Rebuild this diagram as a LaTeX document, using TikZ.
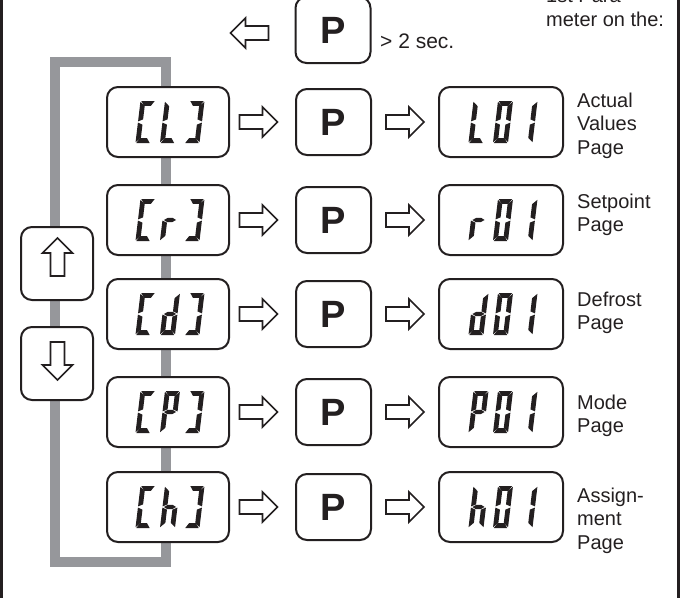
\documentclass[tikz,border=0pt]{standalone}
\usepackage{fontspec}
\setmainfont{Liberation Sans}
\usetikzlibrary{calc}
\definecolor{loopgray}{RGB}{150,151,155}
\definecolor{ink}{RGB}{35,31,32}
% seven-segment pieces (local cell 15 x 42, origin top-left, y down)
\newcommand\segpa{\fill[ink] (0.8,0) -- (14.2,0) -- (11.0,4.8) -- (4.0,4.8) -- cycle;}
\newcommand\segpd{\fill[ink] (0.8,42) -- (14.2,42) -- (11.0,37.2) -- (4.0,37.2) -- cycle;}
\newcommand\segpg{\fill[ink] (1.4,21) -- (5.2,18.8) -- (9.8,18.8) -- (13.6,21) -- (9.8,23.2) -- (5.2,23.2) -- cycle;}
\newcommand\segpf{\fill[ink] (0,0.8) -- (4.8,5.2) -- (4.8,18.4) -- (0,20.4) -- cycle;}
\newcommand\segpe{\fill[ink] (0,21.6) -- (4.8,23.6) -- (4.8,36.8) -- (0,41.2) -- cycle;}
\newcommand\segpb{\fill[ink] (15,0.8) -- (10.2,5.2) -- (10.2,18.4) -- (15,20.4) -- cycle;}
\newcommand\segpc{\fill[ink] (15,21.6) -- (10.2,23.6) -- (10.2,36.8) -- (15,41.2) -- cycle;}
\newcommand\segchar[2]{\begin{scope}[shift={(#1)}, xslant=0.12]\foreach \s in {#2}{\csname segp\s\endcsname}\end{scope}}
\newcommand\dispchars[4]{%
  \segchar{$(#1.center)+(-27.5,-21)$}{#2}%
  \segchar{$(#1.center)+(-3,-21)$}{#3}%
  \segchar{$(#1.center)+(21.5,-21)$}{#4}}
\begin{document}
\begin{tikzpicture}[x=1pt,y=-1pt,
  keybox/.style={draw=ink, line width=2pt, rounded corners=11pt, fill=white, inner sep=0pt},
  ldisp/.style={keybox, minimum width=122pt, minimum height=70pt},
  rdisp/.style={keybox, minimum width=124pt, minimum height=70pt},
  pkey/.style={keybox, minimum width=75pt, minimum height=66pt, text=ink,
     font=\fontsize{38}{38}\selectfont\bfseries},
  navkey/.style={keybox, minimum width=72pt, minimum height=73pt},
  lbl/.style={anchor=base west, align=left, inner sep=0pt, text=ink,
     font=\fontsize{20}{23.5}\selectfont},
  rarrow/.pic={\draw[ink, line width=1.7pt, fill=white, line join=miter]
     (-19,-7) -- (4,-7) -- (4,-15) -- (19,0) -- (4,15) -- (4,7) -- (-19,7) -- cycle;}
]
\useasboundingbox (0,0) rectangle (681,598);
\clip (0,0) rectangle (681,598);
% frame sides
\draw[ink, line width=2.5pt] (1.25,0) -- (1.25,598);
\draw[ink, line width=2.5pt] (678.5,0) -- (678.5,598);
% gray loop
\coordinate (lt) at (55,62);
\coordinate (rt) at (166,62);
\coordinate (lb) at (55,562);
\coordinate (rb) at (166,562);
\draw[loopgray, line width=10.5pt, line join=miter] (rt) -- (lt) -- (lb) -- (rb) -- cycle;
% top row
\node[pkey] (ptop) at (333,30) {P};
\pic[rotate=180] at (249.5,33) {rarrow};
\node[lbl, font=\fontsize{21}{24}\selectfont] (sec) at (380,48) {> 2 sec.};
\node[lbl] (note) at (546,26) {1st Para-\\meter on the:};
% navigation keys
\node[navkey] (up) at (57,263.5) {};
\node[navkey] (down) at (57,363.5) {};
\pic[rotate=90] at (57.5,257) {rarrow};
\pic[rotate=-90] at (57.5,361) {rarrow};
% rows
\foreach \i/\y in {1/122,2/220,3/314,4/412,5/507}{
  \node[ldisp] (l\i) at (168,\y) {};
  \node[pkey]  (p\i) at (333.5,\y) {P};
  \node[rdisp] (r\i) at (501,\y) {};
  \pic at ($(l\i.east)!0.5!(p\i.west)+(-4,0)$) {rarrow};
  \pic at ($(p\i.east)!0.5!(r\i.west)$) {rarrow};
}
% display characters
\dispchars{l1}{a,d,e,f}{d,e,f}{a,b,c,d}
\dispchars{l2}{a,d,e,f}{e,g}{a,b,c,d}
\dispchars{l3}{a,d,e,f}{b,c,d,e,g}{a,b,c,d}
\dispchars{l4}{a,d,e,f}{a,b,e,f,g}{a,b,c,d}
\dispchars{l5}{a,d,e,f}{c,e,f,g}{a,b,c,d}
\dispchars{r1}{d,e,f}{a,b,c,d,e,f}{b,c}
\dispchars{r2}{e,g}{a,b,c,d,e,f}{b,c}
\dispchars{r3}{b,c,d,e,g}{a,b,c,d,e,f}{b,c}
\dispchars{r4}{a,b,e,f,g}{a,b,c,d,e,f}{b,c}
\dispchars{r5}{c,e,f,g}{a,b,c,d,e,f}{b,c}
% labels (anchor = baseline of last line)
\node[lbl] (t1) at (577,154) {Actual\\Values\\Page};
\node[lbl] (t2) at (577,231.5) {Setpoint\\Page};
\node[lbl] (t3) at (577,329.5) {Defrost\\Page};
\node[lbl] (t4) at (577,432.5) {Mode\\Page};
\node[lbl] (t5) at (577,549) {Assign-\\ment\\Page};
\end{tikzpicture}
\end{document}
